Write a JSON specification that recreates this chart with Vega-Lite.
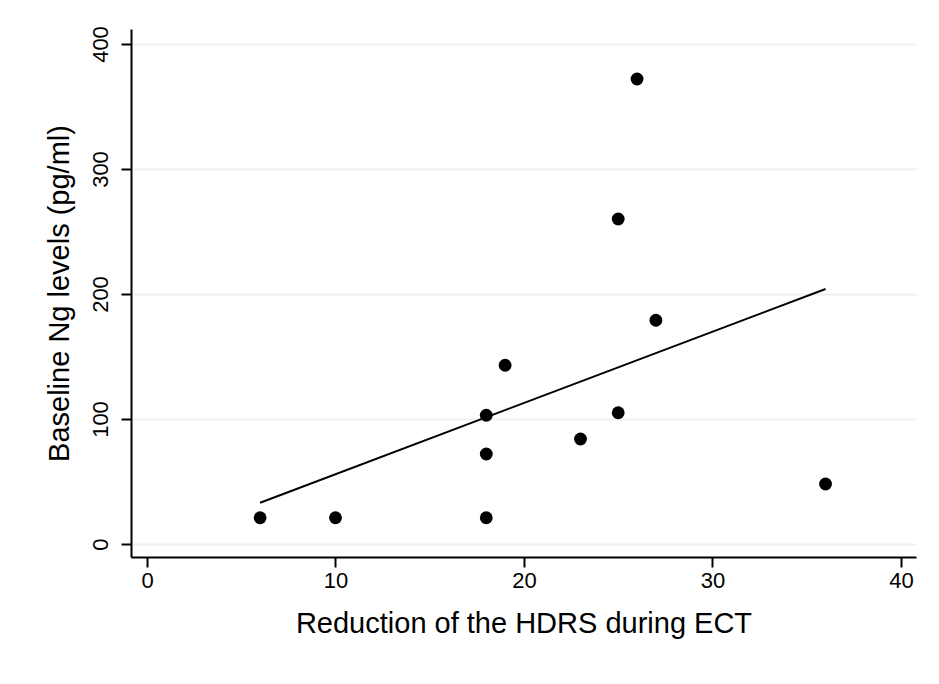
{
  "$schema": "https://vega.github.io/schema/vega-lite/v6.json",
  "width": 785,
  "height": 528,
  "autosize": {"type": "none"},
  "padding": {"left": 131, "top": 29, "right": 23, "bottom": 127},
  "background": "white",
  "config": {
    "view": {"stroke": null},
    "font": "Liberation Sans"
  },
  "datasets": {
    "pts": [
      {"hdrs": 6, "ng": 21},
      {"hdrs": 10, "ng": 21},
      {"hdrs": 18, "ng": 21},
      {"hdrs": 18, "ng": 72},
      {"hdrs": 18, "ng": 103},
      {"hdrs": 19, "ng": 143},
      {"hdrs": 23, "ng": 84},
      {"hdrs": 25, "ng": 105},
      {"hdrs": 25, "ng": 260},
      {"hdrs": 26, "ng": 372},
      {"hdrs": 27, "ng": 179},
      {"hdrs": 36, "ng": 48}
    ],
    "fit": [
      {"hdrs": 6, "ng": 33},
      {"hdrs": 36, "ng": 204}
    ]
  },
  "layer": [
    {
      "data": {"name": "pts"},
      "mark": {"type": "point", "filled": true, "color": "black", "opacity": 1, "size": 165},
      "encoding": {
        "x": {
          "field": "hdrs", "type": "quantitative",
          "scale": {"domain": [-0.85, 40.8], "nice": false, "zero": false},
          "axis": {
            "values": [0, 10, 20, 30, 40],
            "title": "Reduction of the HDRS during ECT",
            "titleFont": "Liberation Sans", "titleFontSize": 29, "titleFontWeight": "normal", "titleColor": "black",
            "titlePadding": 18,
            "labelFont": "Liberation Sans", "labelFontSize": 22, "labelColor": "black", "labelPadding": 3,
            "domainColor": "black", "domainWidth": 2,
            "tickColor": "black", "tickWidth": 2, "tickSize": 10,
            "grid": false
          }
        },
        "y": {
          "field": "ng", "type": "quantitative",
          "scale": {"domain": [-10.4, 412], "nice": false, "zero": false},
          "axis": {
            "values": [0, 100, 200, 300, 400],
            "title": "Baseline Ng levels (pg/ml)",
            "titleFont": "Liberation Sans", "titleFontSize": 29, "titleFontWeight": "normal", "titleColor": "black",
            "titlePadding": 15,
            "labelFont": "Liberation Sans", "labelFontSize": 22, "labelColor": "black",
            "labelAngle": -90, "labelAlign": "center", "labelBaseline": "bottom", "labelPadding": 9,
            "domainColor": "black", "domainWidth": 2,
            "tickColor": "black", "tickWidth": 2, "tickSize": 10,
            "grid": true, "gridColor": "#eaf2f3", "gridWidth": 2
          }
        }
      }
    },
    {
      "data": {"name": "fit"},
      "mark": {"type": "line", "color": "black", "strokeWidth": 2},
      "encoding": {
        "x": {"field": "hdrs", "type": "quantitative"},
        "y": {"field": "ng", "type": "quantitative"}
      }
    }
  ]
}
